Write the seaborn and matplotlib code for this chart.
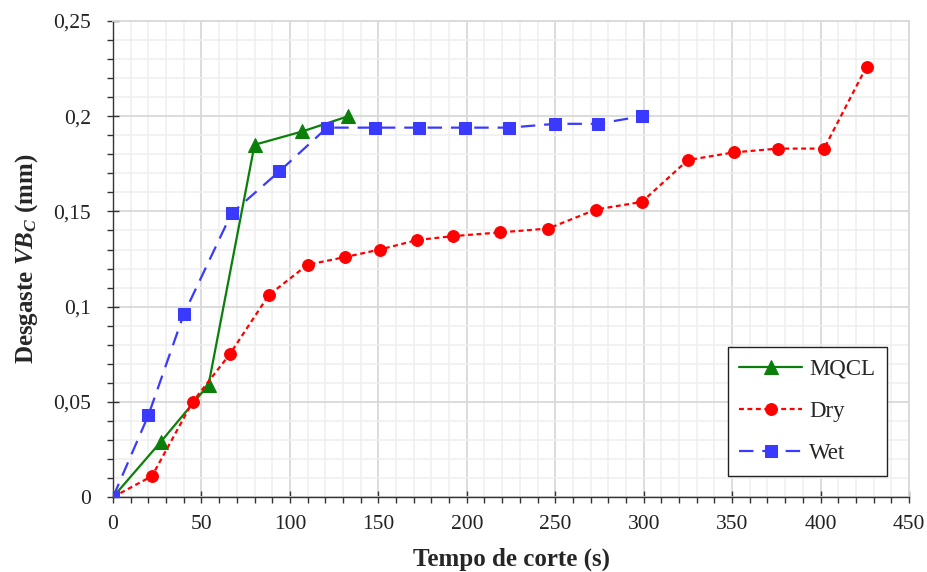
import numpy as np
import pandas as pd
import matplotlib
matplotlib.use("Agg")
import matplotlib.pyplot as plt
import seaborn as sns
from matplotlib.ticker import MultipleLocator, FuncFormatter

# ---- data ----
mqcl_t = [0, 27, 54, 80, 107, 133]
mqcl_vb = [0, 0.029, 0.059, 0.185, 0.192, 0.200]

dry_t = [0, 22, 45, 66, 88, 110, 131, 151, 172, 192, 219, 246, 273, 299, 325, 351, 376, 402, 426]
dry_vb = [0, 0.011, 0.050, 0.075, 0.106, 0.122, 0.126, 0.130, 0.135, 0.137, 0.139, 0.141,
          0.151, 0.155, 0.177, 0.181, 0.183, 0.183, 0.226]

wet_t = [0, 20, 40, 67, 94, 121, 148, 173, 199, 224, 250, 274, 299]
wet_vb = [0, 0.043, 0.096, 0.149, 0.171, 0.194, 0.194, 0.194, 0.194, 0.194, 0.196, 0.196, 0.200]

x_ticks = [0, 50, 100, 150, 200, 250, 300, 350, 400, 450]
y_ticks = [0, 0.05, 0.10, 0.15, 0.20, 0.25]

sns.set_theme(style="white")
plt.rcParams["font.family"] = ["Liberation Serif", "DejaVu Serif"]
plt.rcParams["mathtext.fontset"] = "custom"
plt.rcParams["mathtext.rm"] = "Liberation Serif"
plt.rcParams["mathtext.it"] = "Liberation Serif:italic:bold"
plt.rcParams["mathtext.bf"] = "Liberation Serif:bold"

fig = plt.figure(figsize=(9.28, 5.72), dpi=100)
ax = fig.add_axes([0.1218, 0.131, 0.9795 - 0.1218, 0.9633 - 0.131])

df_m = pd.DataFrame({"t": mqcl_t, "vb": mqcl_vb})
df_d = pd.DataFrame({"t": dry_t, "vb": dry_vb})
df_w = pd.DataFrame({"t": wet_t, "vb": wet_vb})

sns.lineplot(data=df_m, x="t", y="vb", ax=ax, sort=False, estimator=None,
             color="#0a800a", lw=1.6, marker="^", markersize=9.5,
             markeredgecolor="#0a800a", label="MQCL", zorder=3)
sns.lineplot(data=df_d, x="t", y="vb", ax=ax, sort=False, estimator=None,
             color="#ff0000", lw=1.6, marker="o", markersize=8.5,
             markeredgecolor="#ff0000", label="Dry", zorder=4)
sns.lineplot(data=df_w, x="t", y="vb", ax=ax, sort=False, estimator=None,
             color="#3a3aff", lw=1.6, marker="s", markersize=8.5,
             markeredgecolor="#3a3aff", label="Wet", zorder=5)
lines = ax.get_lines()
lines[1].set_dashes((2.2, 1.6))
lines[2].set_dashes((6.5, 4))

ax.set_xlim(0, 450)
ax.set_ylim(0, 0.25)
ax.set_xticks(x_ticks)
ax.set_yticks(y_ticks)
ax.xaxis.set_minor_locator(MultipleLocator(10))
ax.yaxis.set_minor_locator(MultipleLocator(0.01))

def fmt(v, pos):
    s = ("%.2f" % v).rstrip("0").rstrip(".")
    return s.replace(".", ",")

ax.yaxis.set_major_formatter(FuncFormatter(fmt))
ax.xaxis.set_major_formatter(FuncFormatter(lambda v, p: "%d" % v))

ax.grid(which="major", color="#d9d9d9", lw=1.3)
ax.grid(which="minor", color="#efefef", lw=1.1)
ax.set_axisbelow(True)

for s in ["top", "right"]:
    ax.spines[s].set_color("#d9d9d9")
    ax.spines[s].set_linewidth(1.3)
for s in ["left", "bottom"]:
    ax.spines[s].set_color("#333333")
    ax.spines[s].set_linewidth(1.0)

ax.tick_params(axis="both", which="major", direction="inout", length=8, width=1.0,
               color="#333333", labelsize=15.5, labelcolor="#222222")
ax.tick_params(axis="both", which="minor", direction="out", length=4, width=1.0,
               color="#333333")
ax.tick_params(axis="x", which="both", bottom=True, pad=9)
ax.tick_params(axis="y", which="both", left=True, pad=12)

ax.set_xlabel("Tempo de corte (s)", fontsize=18, fontweight="bold", labelpad=10)
ax.set_ylabel(r"Desgaste $VB_C$ (mm)", fontsize=18, fontweight="bold", labelpad=9)

leg = ax.legend(loc="lower right", bbox_to_anchor=(0.972, 0.045), fontsize=16.5,
                frameon=True, fancybox=False, edgecolor="#222222", framealpha=1,
                handlelength=2.75, labelspacing=0.92, borderpad=0.5, handletextpad=0.3,
                borderaxespad=0)
leg.get_frame().set_linewidth(1.0)

fig.savefig("out.png", dpi=100)
